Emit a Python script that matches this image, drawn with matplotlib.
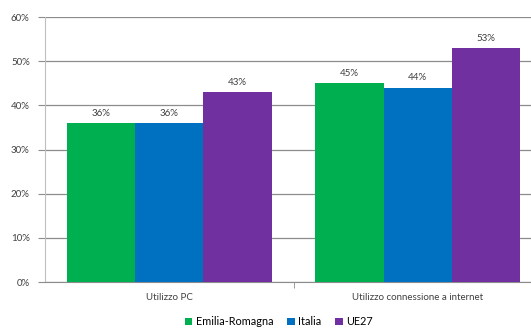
import matplotlib
matplotlib.use("Agg")
import matplotlib.pyplot as plt
import numpy as np
from matplotlib.ticker import FuncFormatter

categories = ["Utilizzo PC", "Utilizzo connessione a internet"]
series_names = ["Emilia-Romagna", "Italia", "UE27"]
emilia = [36, 45]
italia = [36, 44]
ue27 = [43, 53]
values = [emilia, italia, ue27]
colors = ["#00B050", "#0070C0", "#7030A0"]
yticks = [0, 10, 20, 30, 40, 50, 60]

plt.rcParams['font.family'] = ['Lato', 'DejaVu Sans']

W, H = 531, 329
fig = plt.figure(figsize=(W / 100, H / 100), dpi=100)
ax = fig.add_axes([45 / W, 47 / H, 497 / W, 265 / H])

x = np.arange(len(categories))
bw = 0.275
for i, (vals, c, name) in enumerate(zip(values, colors, series_names)):
    pos = x + (i - 1) * bw
    ax.bar(pos, vals, width=bw, color=c, label=name, zorder=3)
    for xp, v in zip(pos, vals):
        ax.text(xp, v + 1.2, f"{v}%", ha='center', va='bottom', fontsize=7,
                color='#404040', zorder=4)

ax.set_xlim(-0.5, 1.5)
ax.set_ylim(0, 60)
ax.set_yticks(yticks)
ax.yaxis.set_major_formatter(FuncFormatter(lambda v, p: f"{int(v)}%"))
ax.yaxis.grid(True, color='#8c8c8c', linewidth=0.9, zorder=0)
ax.set_xticks(x)
ax.set_xticklabels(categories, fontsize=7, color='#404040')
ax.set_xticks([0.5], minor=True)
ax.tick_params(axis='x', which='major', length=0, pad=8)
ax.tick_params(axis='x', which='minor', length=4, color='#8c8c8c')
ax.tick_params(axis='y', length=5, color='#8c8c8c', labelsize=7,
               labelcolor='#404040', pad=6)
for s in ['top', 'right']:
    ax.spines[s].set_visible(False)
ax.spines['left'].set_color('#bfbfbf')
ax.spines['bottom'].set_color('#8c8c8c')

fig.legend(loc='lower center', bbox_to_anchor=(0.525, -0.025), ncol=3,
           frameon=False, fontsize=7.8, handlelength=0.7, handleheight=0.7,
           handletextpad=0.3, columnspacing=1.3)

fig.savefig("out.png", dpi=100)
